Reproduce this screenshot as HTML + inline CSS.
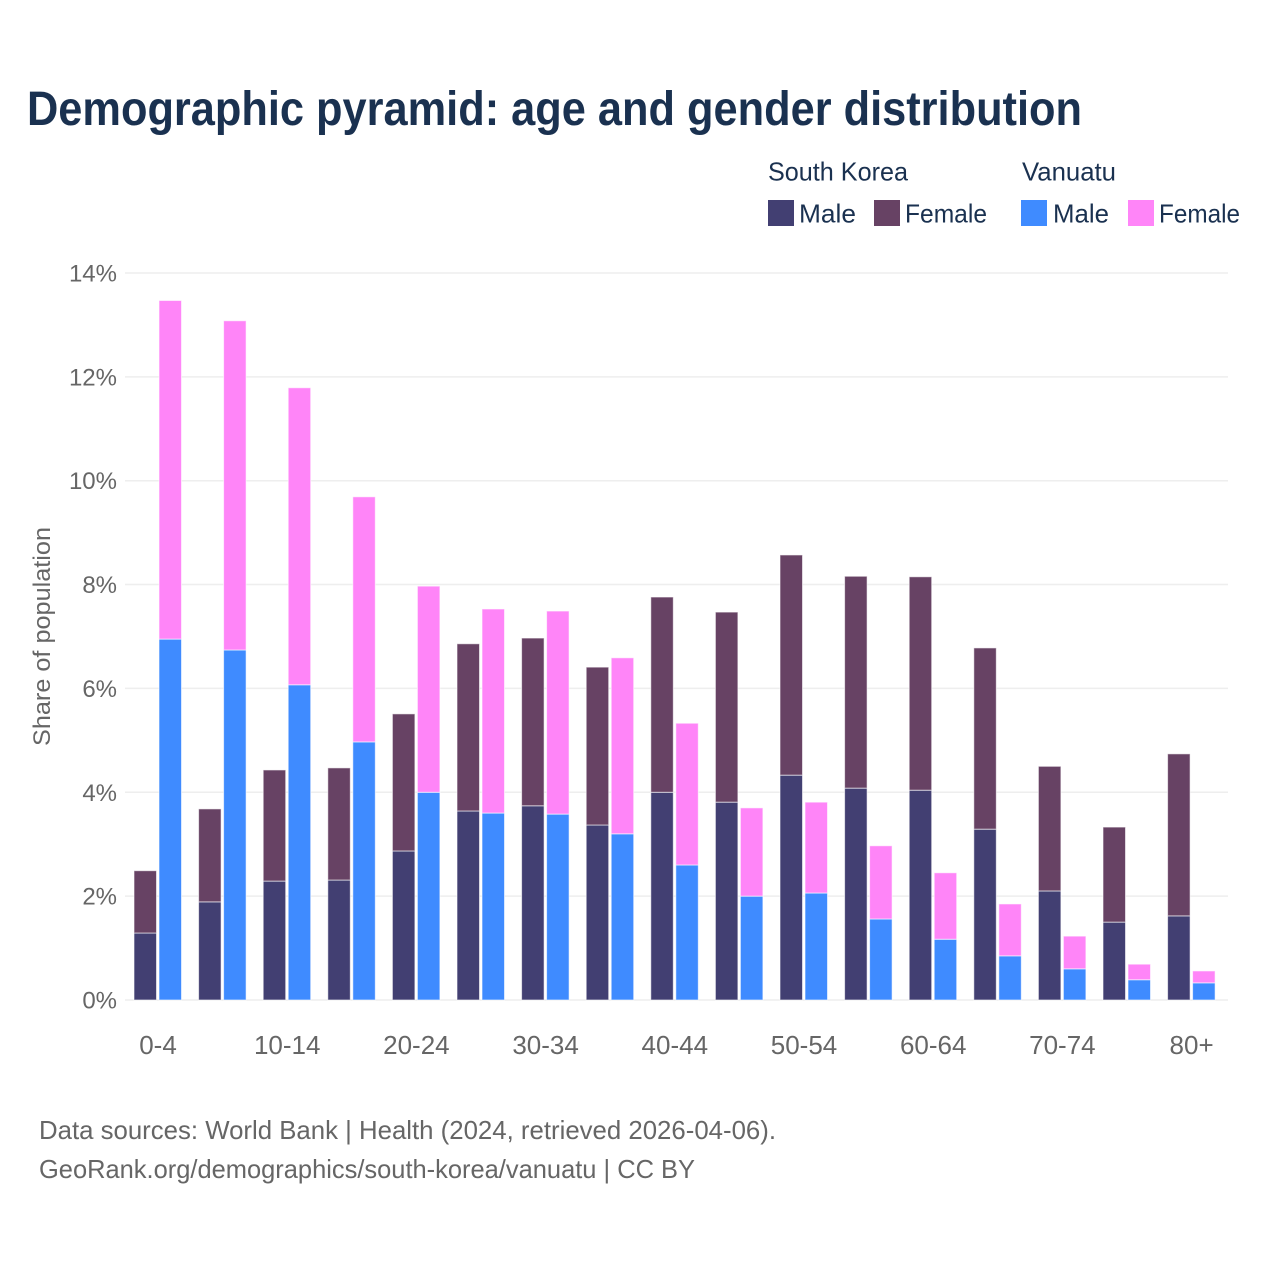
<!DOCTYPE html>
<html lang="en">
<head>
<meta charset="utf-8">
<title>Demographic pyramid</title>
<style>
html,body{margin:0;padding:0;background:#fff;}
svg{display:block;}
text{font-family:"Liberation Sans",sans-serif;}
</style>
</head>
<body>
<svg id="chart" xmlns="http://www.w3.org/2000/svg" width="1280" height="1280" viewBox="0 0 1280 1280">
<rect x="0" y="0" width="1280" height="1280" fill="#ffffff"/>
<text x="27" y="125" font-size="48" font-weight="700" fill="#1a3150" textLength="1055" lengthAdjust="spacingAndGlyphs">Demographic pyramid: age and gender distribution</text>
<g font-size="26" fill="#1a3150">
<text x="768" y="180.5" textLength="140" lengthAdjust="spacingAndGlyphs">South Korea</text>
<text x="1022" y="180.5" textLength="94" lengthAdjust="spacingAndGlyphs">Vanuatu</text>
<rect x="768" y="200" width="26" height="26" fill="#423f72"/>
<text x="799" y="222.5" textLength="57" lengthAdjust="spacingAndGlyphs">Male</text>
<rect x="874" y="200" width="26" height="26" fill="#674264"/>
<text x="905" y="222.5" textLength="82" lengthAdjust="spacingAndGlyphs">Female</text>
<rect x="1021" y="200" width="26" height="26" fill="#3f8bff"/>
<text x="1053" y="222.5" textLength="56" lengthAdjust="spacingAndGlyphs">Male</text>
<rect x="1128" y="200" width="26" height="26" fill="#ff85f8"/>
<text x="1159" y="222.5" textLength="81" lengthAdjust="spacingAndGlyphs">Female</text>
</g>
<g id="grid"></g>
<g id="bars"></g>
<g id="yticks"></g>
<g id="xticks"></g>
<text transform="translate(50,636.5) rotate(-90)" text-anchor="middle" font-size="24" fill="#666666" textLength="219" lengthAdjust="spacingAndGlyphs">Share of population</text>
<text x="39" y="1139" font-size="26" fill="#666666" textLength="737" lengthAdjust="spacingAndGlyphs">Data sources: World Bank | Health (2024, retrieved 2026-04-06).</text>
<text x="39" y="1178" font-size="26" fill="#666666" textLength="656" lengthAdjust="spacingAndGlyphs">GeoRank.org/demographics/south-korea/vanuatu | CC BY</text>
</svg>
<script>
const categories = ["0-4","5-9","10-14","15-19","20-24","25-29","30-34","35-39","40-44","45-49","50-54","55-59","60-64","65-69","70-74","75-79","80+"];
const tickCategories = ["0-4","10-14","20-24","30-34","40-44","50-54","60-64","70-74","80+"];
const southKoreaMale = [1.29,1.89,2.29,2.31,2.87,3.64,3.74,3.37,4.00,3.81,4.33,4.08,4.04,3.29,2.10,1.50,1.62];
const southKoreaFemale = [1.20,1.79,2.14,2.16,2.64,3.22,3.23,3.04,3.76,3.66,4.24,4.08,4.11,3.49,2.40,1.83,3.12];
const vanuatuMale = [6.95,6.74,6.07,4.97,4.00,3.60,3.58,3.20,2.60,2.00,2.06,1.56,1.17,0.85,0.60,0.39,0.33];
const vanuatuFemale = [6.52,6.34,5.72,4.72,3.97,3.93,3.91,3.39,2.73,1.70,1.75,1.41,1.28,1.00,0.63,0.30,0.23];
const yTicks = [0,2,4,6,8,10,12,14];

const NS = "http://www.w3.org/2000/svg";
const xBand = function(i){ return 158 + 64.6 * i; };
const yScale = function(v){ return 1000 - v * 51.93; };

function make(tag, parent, attrs, content){
  const el = document.createElementNS(NS, tag);
  for (const k in attrs) el.setAttribute(k, attrs[k]);
  if (content !== undefined) el.textContent = content;
  parent.appendChild(el);
  return el;
}

const gridG = document.getElementById("grid");
const barsG = document.getElementById("bars");
const yG = document.getElementById("yticks");
const xG = document.getElementById("xticks");

yTicks.forEach(function(t){
  const line = make("line", gridG, {x1:125, x2:1228, y1:yScale(t), y2:yScale(t), stroke:"#eeeeee", "stroke-width":1.5});
  
  
  const label = make("text", yG, {x:117, y:yScale(t)+8.5, "text-anchor":"end", "font-size":24, fill:"#666666"}, t + "%");
  
  
});

tickCategories.forEach(function(c){
  const label = make("text", xG, {x:xBand(categories.indexOf(c)), y:1054, "text-anchor":"middle", "font-size":26, fill:"#666666"}, c);
  
  
});

function barRect(x, v0, v1, fill){
  return make("rect", barsG, {x:x, y:yScale(v0+v1), width:22.5, height:yScale(v0)-yScale(v0+v1), fill:fill, stroke:"#ffffff", "stroke-opacity":0.6, "stroke-width":1});
}

categories.forEach(function(c, i){
  const cx = xBand(i);
  const a = barRect(cx-24, 0, southKoreaMale[i], "#423f72");
  
  
  const b = barRect(cx-24, southKoreaMale[i], southKoreaFemale[i], "#674264");
  
  
  const d = barRect(cx+1, 0, vanuatuMale[i], "#3f8bff");
  
  
  const e = barRect(cx+1, vanuatuMale[i], vanuatuFemale[i], "#ff85f8");
  
  
});
</script>
</body>
</html>
